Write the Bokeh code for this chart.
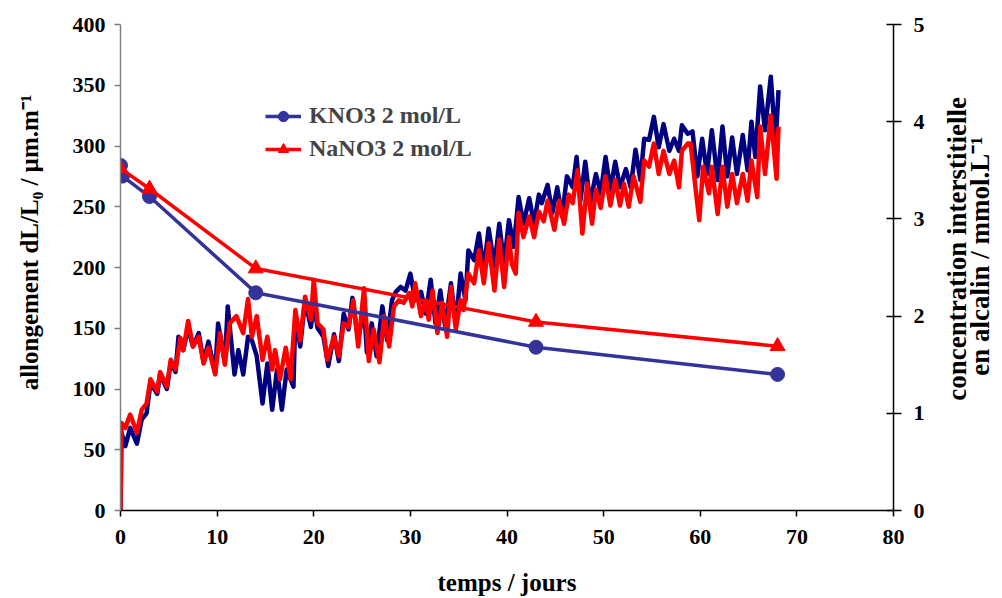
import math
from bokeh.plotting import figure
from bokeh.layouts import row
from bokeh.models import Range1d, LinearAxis, Legend, LegendItem, FixedTicker, Label
from bokeh.embed import file_html
from bokeh.resources import INLINE

# ---- elongation (left axis, µm/m) ----
t_k = [0, 0.1, 0.5, 1.0, 1.7, 2.2, 2.7, 3.1, 3.8, 4.1, 4.8, 5.2, 5.7, 6.0, 6.5, 7.0, 7.5, 8.1, 8.6, 9.1,
       9.8, 10.1, 10.8, 11.1, 11.8, 12.2, 12.7, 13.2, 13.6, 14.1, 14.7, 15.2, 15.7, 16.2, 16.7, 17.2, 17.9,
       18.1, 18.6, 19.1, 19.7, 20.0, 20.4, 21.0, 21.5, 22.1, 22.6, 23.1, 23.6, 24.0, 24.6, 25.2, 25.5, 26.0,
       26.5, 27.1, 27.6, 28.1, 28.5, 29.0, 29.5, 30.0, 30.5, 31.1, 31.6, 32.1, 32.6, 33.1, 33.6, 34.2, 34.7,
       35.2, 35.7, 36.0, 36.6, 37.1, 37.6, 38.1, 38.7, 39.2, 39.7, 40.2, 40.7, 41.2, 41.7, 42.3, 42.8, 43.3,
       43.6, 44.2, 44.7, 45.2, 45.7, 46.2, 46.8, 47.2, 47.6, 48.1, 48.6, 49.2, 49.7, 50.2, 50.7, 51.2, 51.7,
       52.3, 52.8, 53.3, 53.8, 54.2, 54.7, 55.2, 55.7, 56.2, 56.8, 57.3, 57.8, 58.1, 58.7, 59.2, 59.7, 60.2,
       60.7, 61.2, 61.8, 62.3, 62.8, 63.3, 63.8, 64.4, 64.9, 65.3, 65.7, 66.2, 66.7, 67.3, 67.8, 68.1]
v_k = [0, 64, 53, 68, 55, 75, 80, 105, 96, 112, 100, 122, 114, 143, 132, 150, 135, 146, 122, 139,
       113, 154, 122, 168, 112, 132, 112, 143, 140, 127, 88, 121, 83, 116, 83, 116, 102,
       162, 135, 173, 151, 170, 150, 143, 119, 145, 123, 162, 149, 175, 140, 168, 130, 154,
       127, 168, 140, 173, 180, 184, 181, 195, 173, 180, 162, 190, 154, 181, 151, 187, 154,
       195, 173, 214, 206, 228, 198, 232, 201, 236, 203, 239, 217, 258, 236, 257, 236, 260,
       253, 268, 245, 266, 242, 275, 266, 291, 255, 287, 253, 277, 261, 291, 264, 287, 266,
       281, 266, 297, 272, 306, 305, 324, 299, 318, 296, 306, 296, 317, 310, 312, 275, 306,
       277, 313, 272, 316, 275, 307, 277, 309, 280, 320, 291, 349, 313, 357, 302, 346]

t_n = [0, 0.1, 0.5, 1.0, 1.7, 2.2, 2.7, 3.1, 3.8, 4.1, 4.8, 5.2, 5.7, 6.2, 6.5, 7.0, 7.5, 8.1, 8.6, 9.1,
       9.8, 10.3, 10.8, 11.3, 12.0, 12.7, 13.2, 13.6, 14.1, 14.7, 15.2, 15.7, 16.0, 16.5, 17.1, 17.6, 18.1,
       18.6, 19.1, 19.7, 20.0, 20.4, 21.0, 21.4, 22.1, 22.6, 23.1, 23.6, 24.1, 24.6, 25.2, 25.7, 26.2, 26.8,
       27.3, 27.8, 28.3, 28.8, 29.3, 29.9, 30.2, 30.5, 31.1, 31.6, 31.9, 32.3, 32.8, 33.3, 33.8, 34.2, 34.7,
       35.2, 35.5, 36.0, 36.6, 37.1, 37.6, 38.1, 38.7, 39.2, 39.7, 40.2, 40.5, 40.9, 41.2, 41.7, 42.3, 42.8,
       43.3, 43.8, 44.2, 44.9, 45.4, 45.9, 46.4, 46.8, 47.3, 47.8, 48.3, 48.8, 49.2, 49.7, 50.2, 50.7, 51.2,
       51.7, 52.1, 52.6, 53.1, 53.8, 54.2, 54.7, 55.2, 55.7, 56.2, 56.8, 57.3, 57.8, 58.1, 58.7, 59.0, 59.5,
       59.9, 60.3, 60.9, 61.2, 61.8, 62.3, 62.8, 63.3, 63.8, 64.4, 64.9, 65.3, 65.9, 66.2, 66.7, 67.3, 67.9,
       68.1]
v_n = [0, 72, 68, 79, 64, 83, 88, 108, 98, 114, 102, 124, 116, 142, 132, 156, 135, 143, 121, 134,
       112, 146, 120, 154, 160, 146, 174, 143, 160, 124, 143, 116, 132, 108, 134, 108, 165,
       140, 176, 157, 190, 154, 149, 124, 143, 127, 154, 151, 173, 135, 183, 123, 149, 122,
       160, 135, 168, 173, 171, 179, 168, 187, 160, 173, 157, 181, 146, 171, 143, 184, 149,
       173, 165, 195, 187, 214, 187, 220, 181, 223, 184, 225, 203, 195, 245, 225, 242, 225,
       246, 238, 255, 231, 255, 236, 260, 253, 280, 228, 269, 236, 264, 249, 275, 251, 272,
       251, 269, 250, 275, 254, 288, 283, 302, 277, 296, 277, 288, 266, 296, 302, 302, 266,
       239, 283, 261, 283, 244, 283, 250, 277, 253, 277, 255, 288, 258, 316, 277, 325, 273,
       316]

# ---- alkali concentration (right axis, mmol/L) ----
tc_k = [0, 0.2, 3, 14, 43, 68]
c_k = [3.55, 3.44, 3.23, 2.24, 1.68, 1.40]
tc_n = [0, 3, 14, 43, 68]
c_n = [3.52, 3.31, 2.49, 1.94, 1.69]

x_ticks = [0, 10, 20, 30, 40, 50, 60, 70, 80]
y_ticks = [0, 50, 100, 150, 200, 250, 300, 350, 400]
y2_ticks = [0, 1, 2, 3, 4, 5]

right_title = ["concentration interstitielle", "en alcalin / mmol.L\u207b\u00b9"]

FONT = "Liberation Serif"
NAVY = "#000080"
INDIGO = "#333399"
RED = "#FF0000"

p = figure(width=930, height=598, output_backend="svg", toolbar_location=None,
           x_range=Range1d(0, 80), y_range=Range1d(0, 400),
           min_border_left=120, min_border_top=24, min_border_right=37, min_border_bottom=87)
p.outline_line_color = None
p.xgrid.visible = False
p.ygrid.visible = False
p.background_fill_color = "white"
p.border_fill_color = "white"

p.extra_y_ranges = {"conc": Range1d(0, 5)}

# elongation lines
p.line(t_k, v_k, line_color=NAVY, line_width=4.5, line_join="round")
p.line(t_n, v_n, line_color=RED, line_width=4.5, line_join="round")

# concentration lines with markers
lk = p.line(tc_k, c_k, y_range_name="conc", line_color=INDIGO, line_width=3.5)
sk = p.scatter(tc_k, c_k, y_range_name="conc", marker="circle", size=14,
               fill_color=INDIGO, line_color=INDIGO)
ln = p.line(tc_n, c_n, y_range_name="conc", line_color=RED, line_width=3.5)
sn = p.scatter(tc_n, c_n, y_range_name="conc", marker="triangle", size=15,
               fill_color=RED, line_color=RED)

# axes styling
def style(ax):
    ax.major_label_text_font = FONT
    ax.major_label_text_font_style = "bold"
    ax.major_label_text_font_size = "22px"
    ax.major_label_text_color = "black"
    ax.axis_label_text_font = FONT
    ax.axis_label_text_font_style = "bold"
    ax.axis_label_text_font_size = "25px"
    ax.axis_label_text_color = "black"
    ax.minor_tick_line_color = None
    ax.major_tick_in = 0
    ax.major_tick_out = 6
    ax.axis_line_width = 1.5
    ax.major_tick_line_width = 1.5

xa = p.xaxis[0]
style(xa)
xa.ticker = FixedTicker(ticks=x_ticks)
xa.axis_label = "temps / jours"
xa.major_label_standoff = 13
xa.axis_label_standoff = 22

ya = p.yaxis[0]
style(ya)
ya.ticker = FixedTicker(ticks=y_ticks)
ya.axis_label = "\u00a0" * 8 + "allongement dL/L\u2080 / \u00b5m.m\u207b\u00b9"
ya.axis_line_color = "#808080"
ya.major_tick_line_color = "#808080"
ya.major_label_standoff = 9
ya.axis_label_standoff = 27

ra = LinearAxis(y_range_name="conc")
style(ra)
ra.ticker = FixedTicker(ticks=y2_ticks)
ra.major_tick_in = 7
ra.major_tick_out = 8
ra.major_label_standoff = 12
p.add_layout(ra, "right")

legend = Legend(items=[LegendItem(label="KNO3 2 mol/L", renderers=[lk, sk]),
                       LegendItem(label="NaNO3 2 mol/L", renderers=[ln, sn])],
                location=(145, 348))
legend.label_text_font = FONT
legend.label_text_font_style = "bold"
legend.label_text_font_size = "24px"
legend.border_line_color = None
legend.background_fill_alpha = 0
legend.padding = 0
legend.margin = 0
legend.spacing = 6
legend.glyph_width = 36
legend.glyph_height = 26
legend.label_height = 26
legend.label_standoff = 8
p.add_layout(legend, "center")

# narrow side panel carrying the right-axis title (reads bottom-to-top)
q = figure(width=70, height=598, output_backend="svg", toolbar_location=None,
           x_range=Range1d(0, 70), y_range=Range1d(0, 598),
           x_axis_type=None, y_axis_type=None, min_border=0)
q.outline_line_color = None
q.xgrid.visible = False
q.ygrid.visible = False
q.border_fill_color = "white"
for txt, xc, yc in [(right_title[0], 26, 322), (right_title[1], 49, 313)]:
    q.add_layout(Label(x=xc, y=yc, text=txt, angle=math.pi / 2,
                       text_align="center", text_baseline="middle",
                       text_font=FONT, text_font_style="bold", text_font_size="27px",
                       text_color="black"))

open("out.html", "w").write(file_html(row(p, q, spacing=0), INLINE))
